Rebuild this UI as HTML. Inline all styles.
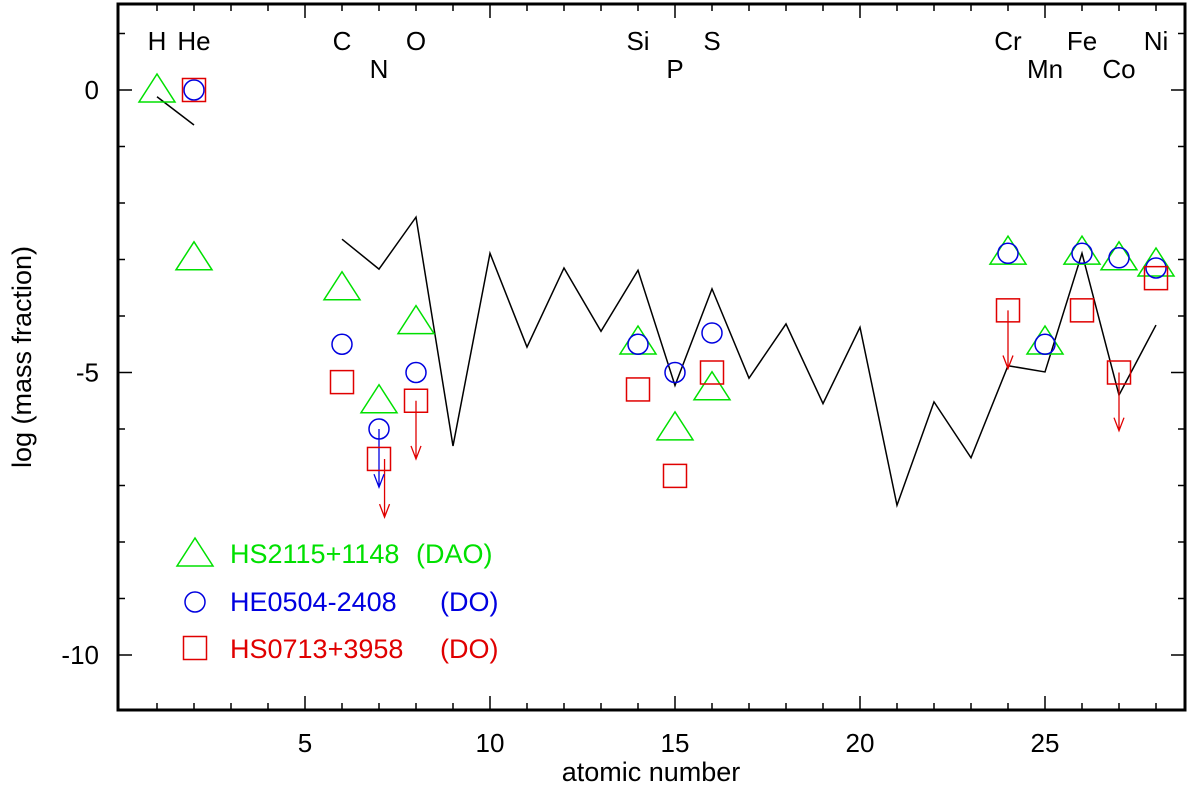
<!DOCTYPE html>
<html><head><meta charset="utf-8"><style>
html,body{margin:0;padding:0;background:#fff;}
svg text{font-family:"Liberation Sans",Arial,sans-serif;}
</style></head><body>
<svg id="chart" width="1200" height="783" xmlns="http://www.w3.org/2000/svg">
<g id="plot"></g>
</svg>
<script>
const elements=["H","He","C","N","O","Si","P","S","Cr","Mn","Fe","Co","Ni"];
const elementZ=[1,2,6,7,8,14,15,16,24,25,26,27,28];
const elementLow=[0,0,0,1,0,0,1,0,0,1,0,1,0];
const solarZ1=[1,2];
const solarV1=[-0.12,-0.62];
const solarZ2=[6,7,8,9,10,11,12,13,14,15,16,17,18,19,20,21,22,23,24,25,26,27,28];
const solarV2=[-2.64,-3.17,-2.25,-6.3,-2.89,-4.55,-3.15,-4.27,-3.19,-5.23,-3.52,-5.1,-4.14,-5.55,-4.2,-7.35,-5.52,-6.51,-4.88,-4.99,-2.89,-5.4,-4.16];
const greenZ=[1,2,6,7,8,14,15,16,24,25,26,27,28];
const greenV=[0,-2.97,-3.5,-5.5,-4.1,-4.46,-5.98,-5.27,-2.87,-4.46,-2.87,-2.97,-3.08];
const blueZ=[2,6,7,8,14,15,16,24,25,26,27,28];
const blueV=[0,-4.5,-6.0,-5.0,-4.5,-5.0,-4.3,-2.89,-4.5,-2.89,-2.97,-3.15];
const blueLimZ=[7];
const blueLimV=[-6.0];
const redZ=[2,6,7,8,14,15,16,24,26,27,28];
const redV=[0,-5.17,-6.53,-5.5,-5.3,-6.83,-5.0,-3.9,-3.9,-5.0,-3.33];
const redLimZ=[7.15,8,24,27];
const redLimV=[-6.53,-5.5,-3.9,-5.0];
const xTicks=[5,10,15,20,25];
const yTicks=[0,-5,-10];

const L=118,R=1185,T=4,B=710;
const X=z=>120+37*z;
const Y=v=>90-56.5*v;
const NS="http://www.w3.org/2000/svg";
const g=document.getElementById('plot');
function mk(t,a,txt){const e=document.createElementNS(NS,t);for(const k in a)e.setAttribute(k,a[k]);if(txt!==undefined)e.textContent=txt;g.appendChild(e);return e;}

for(let z=1;z<=28;z++){
  const major=z%5===0;const len=major?14:7;
  let e=mk('line',{x1:X(z),x2:X(z),y1:B,y2:B-len,stroke:'#000','stroke-width':1.5});
  
  e=mk('line',{x1:X(z),x2:X(z),y1:T,y2:T+len,stroke:'#000','stroke-width':1.5});
  
}
for(let v=1;v>=-11;v--){
  const y=Y(v);if(y<T||y>B)continue;
  const major=v%5===0;const len=major?14:7;
  let e=mk('line',{x1:L,x2:L+len,y1:y,y2:y,stroke:'#000','stroke-width':1.5});
  
  e=mk('line',{x1:R,x2:R-len,y1:y,y2:y,stroke:'#000','stroke-width':1.5});
  
}
xTicks.forEach(t=>{const e=mk('text',{x:X(t),y:752,'text-anchor':'middle','font-size':26},String(t));
});
yTicks.forEach(t=>{const e=mk('text',{x:99,y:Y(t)+9,'text-anchor':'end','font-size':26},String(t));
});

elements.forEach((s,i)=>{const e=mk('text',{x:X(elementZ[i]),y:elementLow[i]?78:50,'text-anchor':'middle','font-size':26},s);
});

function pl(zs,vs){return zs.map((z,i)=>X(z)+','+Y(vs[i])).join(' ');}
let s1=mk('polyline',{points:pl(solarZ1,solarV1),fill:'none',stroke:'#000','stroke-width':1.5});

let s2=mk('polyline',{points:pl(solarZ2,solarV2),fill:'none',stroke:'#000','stroke-width':1.5});


function tri(cx,cy,c){return mk('polygon',{points:`${cx},${cy-16} ${cx-18},${cy+12} ${cx+18},${cy+12}`,fill:'none',stroke:c,'stroke-width':1.5});}
function circ(cx,cy,c){return mk('circle',{cx:cx,cy:cy,r:10,fill:'none',stroke:c,'stroke-width':1.5});}
function sq(cx,cy,c){return mk('rect',{x:cx-11.5,y:cy-11.5,width:23,height:23,fill:'none',stroke:c,'stroke-width':1.5});}
function arrow(z,v,c){const x=X(z),y0=Y(v),y1=Y(v-1.03);
 return mk('path',{d:`M${x},${y0}L${x},${y1}M${x-5},${y1-13}L${x},${y1}L${x+5},${y1-13}`,fill:'none',stroke:c,'stroke-width':1.3});}

greenZ.forEach((z,i)=>{const e=tri(X(z),Y(greenV[i]),'#00e000');});
redLimZ.forEach((z,i)=>{const e=arrow(z,redLimV[i],'#e00000');});
blueLimZ.forEach((z,i)=>{const e=arrow(z,blueLimV[i],'#0000e0');});
blueZ.forEach((z,i)=>{const e=circ(X(z),Y(blueV[i]),'#0000e0');});
redZ.forEach((z,i)=>{const e=sq(X(z),Y(redV[i]),'#e00000');});

let e;
e=tri(195,554,'#00e000');
e=circ(195,602,'#0000e0');
e=sq(195,648,'#e00000');
const leg=[["HS2115+1148","(DAO)","#00e000",563,416],["HE0504-2408","(DO)","#0000e0",611,440],["HS0713+3958","(DO)","#e00000",658,440]];
leg.forEach(l=>{let t=mk('text',{x:230,y:l[3],'font-size':27,fill:l[2]},l[0]);
 t=mk('text',{x:l[4],y:l[3],'font-size':27,fill:l[2]},l[1]);});

e=mk('rect',{x:L,y:T,width:R-L,height:B-T,fill:'none',stroke:'#000','stroke-width':3});

e=mk('text',{x:651,y:781,'text-anchor':'middle','font-size':27},'atomic number');

e=mk('text',{x:0,y:0,'text-anchor':'middle','font-size':27,transform:'translate(31,357) rotate(-90)'},'log (mass fraction)');

</script>
</body></html>
